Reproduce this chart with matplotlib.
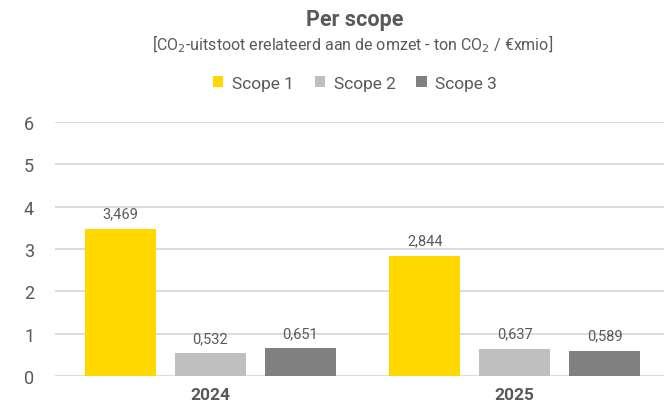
import matplotlib.pyplot as plt
import numpy as np

years = ["2024", "2025"]
series = ["Scope 1", "Scope 2", "Scope 3"]
scope1 = [3.469, 2.844]
scope2 = [0.532, 0.637]
scope3 = [0.651, 0.589]
colors = ["#FFD800", "#BFBFBF", "#808080"]

plt.rcParams["font.family"] = ["Roboto", "DejaVu Sans"]
txt = "#595959"

fig = plt.figure(figsize=(6.64, 4.14), dpi=100)
ax = fig.add_axes([55 / 664, 37 / 414, 609 / 664, 254 / 414])

x = np.arange(len(years))
w = 0.233
offsets = [-0.295, 0.0, 0.295]
for vals, off, c, name in zip([scope1, scope2, scope3], offsets, colors, series):
    bars = ax.bar(x + off, vals, w, color=c, label=name, zorder=3)
    for b, v in zip(bars, vals):
        ax.text(b.get_x() + b.get_width() / 2, v + 0.2, f"{v:.3f}".replace(".", ","),
                ha="center", va="bottom", fontsize=10.5, color=txt)

ax.set_xlim(-0.51, 1.49)
ax.set_ylim(0, 6)
ax.set_yticks(range(7))
ax.grid(axis="y", color="#D9D9D9", lw=1.3, zorder=0)
for s in ["top", "right", "left", "bottom"]:
    ax.spines[s].set_visible(False)
ax.tick_params(axis="y", length=0, labelsize=13, labelcolor=txt, pad=15)
ax.tick_params(axis="x", length=0, labelsize=12.5, labelcolor=txt, pad=8)
ax.set_xticks(x)
ax.set_xticklabels(years, fontweight="bold")

fig.text(355 / 664, 1 - 20 / 414, "Per scope", ha="center", va="center",
         fontsize=15.5, fontweight="bold", color=txt)
fig.text(353 / 664, 1 - 44 / 414,
         "[CO$_2$-uitstoot erelateerd aan de omzet - ton CO$_2$ / €xmio]",
         ha="center", va="center", fontsize=11.5, color=txt)

fig.legend(loc="center", bbox_to_anchor=(355 / 664, 1 - 84 / 414), ncol=3,
           frameon=False, fontsize=12.5, handlelength=0.6, handleheight=0.6,
           handletextpad=0.5, columnspacing=1.2, labelcolor=txt)

fig.savefig("out.png", dpi=100)
